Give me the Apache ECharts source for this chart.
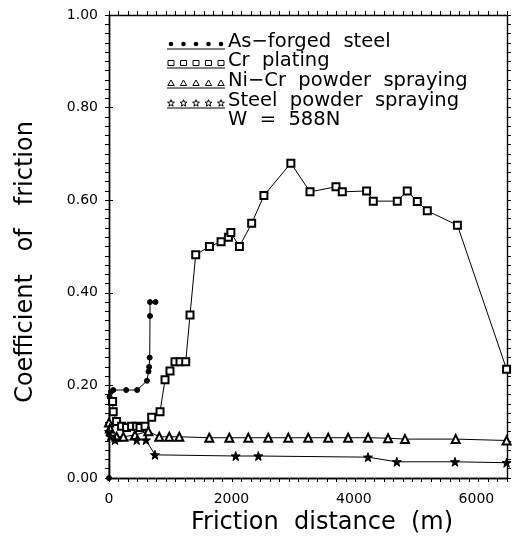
<!DOCTYPE html>
<html>
<head>
<meta charset="utf-8">
<script src="https://cdn.jsdelivr.net/npm/echarts@6/dist/echarts.min.js"></script>
<style>
  html, body { margin: 0; padding: 0; background: #fff; }
  #chart { width: 514px; height: 541px; }
</style>
</head>
<body>
<div id="chart"></div>
<script>
// friction distance (m) / coefficient of friction
const asForgedX = [0, 10, 30, 70, 280, 460, 620, 645, 655, 665, 670, 670, 760]
const asForgedY = [0.00, 0.175, 0.186, 0.19, 0.19, 0.19, 0.21, 0.23, 0.24, 0.26, 0.35, 0.38, 0.38]

const crPlatingX = [59, 69, 124, 206, 287, 369, 451, 506, 588, 697, 833, 915, 996, 1078, 1160, 1253, 1323, 1416, 1640, 1830, 1950, 1990, 2130, 2330, 2530, 2970, 3283, 3707, 3810, 4207, 4316, 4708, 4871, 5035, 5198, 5690, 6493]
const crPlatingY = [0.165, 0.143, 0.122, 0.112, 0.109, 0.112, 0.112, 0.109, 0.112, 0.131, 0.143, 0.212, 0.231, 0.251, 0.251, 0.251, 0.352, 0.482, 0.50, 0.51, 0.52, 0.53, 0.50, 0.55, 0.61, 0.68, 0.618, 0.629, 0.618, 0.620, 0.598, 0.598, 0.620, 0.597, 0.577, 0.546, 0.235]

const niCrX = [0, 16, 125, 234, 425, 642, 821, 984, 1148, 1638, 1965, 2275, 2601, 2928, 3254, 3580, 3906, 4232, 4558, 4834, 5662, 6493]
const niCrY = [0.12, 0.107, 0.089, 0.089, 0.093, 0.101, 0.089, 0.089, 0.089, 0.087, 0.087, 0.087, 0.087, 0.087, 0.087, 0.087, 0.087, 0.087, 0.086, 0.084, 0.084, 0.081]

const steelPowderX = [0, 20, 98, 452, 604, 751, 2069, 2439, 4230, 4700, 5650, 6493]
const steelPowderY = [0.10, 0.09, 0.082, 0.082, 0.082, 0.05, 0.0475, 0.0475, 0.045, 0.035, 0.035, 0.033]

const legendNames = ['As\u2212forged  steel', 'Cr  plating', 'Ni\u2212Cr  powder  spraying', 'Steel  powder  spraying']
const loadLabel = 'W  =  588N'

const xTickLabels = [0, 2000, 4000, 6000]
const yTickLabels = [0, 0.2, 0.4, 0.6, 0.8, 1.0]

const starPath = 'path://M0,-10L2.35,-3.24L9.51,-3.09L3.8,1.24L5.88,8.09L0,4L-5.88,8.09L-3.8,1.24L-9.51,-3.09L-2.35,-3.24Z'

const font = 'DejaVu Sans'
const black = '#000'
const xMax = 6500
const xMinorStep = xMax / 42

const zip = (xs, ys) => xs.map((x, i) => [x, ys[i]])

const chart = echarts.init(document.getElementById('chart'), null, { renderer: 'canvas' })

const lineSeries = (name, xs, ys, symbol, size) => ({
    name,
    type: 'line',
    data: zip(xs, ys),
    symbol,
    symbolSize: size,
    showAllSymbol: true,
    animation: false,
    lineStyle: { color: black, width: 1 },
    itemStyle: { color: black, borderColor: black, borderWidth: 1 },
    emphasis: { disabled: true }
})

const tickAxis = (extra) => Object.assign({
    type: 'value',
    axisLine: { show: true, onZero: false, lineStyle: { color: black, width: 1.4 } },
    axisTick: { show: true, length: 4, lineStyle: { color: black, width: 1 } },
    splitLine: { show: false },
    axisLabel: { show: false }
}, extra)

// legend drawn by hand: five sample marks over a short line, then text
const legendX = 167
const legendRows = [44, 63, 83, 103]
const legendFont = '19.5px "' + font + '"'
const sampleShape = (kind, cx, cy) => {
    if (kind === 0) return { type: 'circle', shape: { cx, cy, r: 2.3 }, style: { fill: black } }
    if (kind === 1) return { type: 'rect', shape: { x: cx - 3, y: cy - 2.5, width: 6, height: 5 }, style: { fill: '#fff', stroke: black, lineWidth: 1 } }
    if (kind === 2) return { type: 'polygon', shape: { points: [[cx, cy - 3], [cx + 3.2, cy + 2.5], [cx - 3.2, cy + 2.5]] }, style: { fill: '#fff', stroke: black, lineWidth: 1 } }
    const pts = []
    for (let k = 0; k < 10; k++) {
        const r = k % 2 === 0 ? 3.6 : 1.5
        const a = -Math.PI / 2 + k * Math.PI / 5
        pts.push([cx + r * Math.cos(a), cy + 0.3 + r * Math.sin(a)])
    }
    return { type: 'polygon', shape: { points: pts }, style: { fill: '#fff', stroke: black, lineWidth: 1 } }
}
const legendGraphics = []
legendRows.forEach((y, i) => {
    legendGraphics.push({ type: 'line', shape: { x1: legendX, y1: y + 5, x2: legendX + 58, y2: y + 5 }, style: { stroke: black, lineWidth: 1 } })
    for (let k = 0; k < 5; k++) legendGraphics.push(sampleShape(i, legendX + 4 + k * 12.5, y))
    legendGraphics.push({ type: 'text', left: 228, top: y - 12, style: { text: legendNames[i], font: legendFont, fill: black } })
})
legendGraphics.push({ type: 'text', left: 228, top: 110, style: { text: loadLabel, font: legendFont, fill: black } })

const option = {
    backgroundColor: '#fff',
    animation: false,
    grid: { left: 109, right: 7, top: 15, bottom: 63, containLabel: false },
    xAxis: [
        // labels and title only
        tickAxis({
            position: 'bottom', min: 0, max: xMax, interval: 2000,
            axisTick: { show: false },
            axisLabel: {
                show: true, color: black, fontFamily: font, fontSize: 14, margin: 14,
                formatter: v => xTickLabels.includes(v) ? String(v) : ''
            },
            name: 'Friction  distance  (m)', nameLocation: 'middle', nameGap: 31,
            nameTextStyle: { color: black, fontFamily: font, fontSize: 24, padding: [0, 0, 0, 28] }
        }),
        // fine ticks, bottom and top
        tickAxis({ position: 'bottom', min: 0, max: xMax, interval: xMinorStep }),
        tickAxis({ position: 'top', min: 0, max: xMax, interval: xMinorStep })
    ],
    yAxis: [
        tickAxis({
            position: 'left', min: 0, max: 1, interval: 0.02,
            axisLabel: {
                show: true, color: black, fontFamily: font, fontSize: 14, margin: 11,
                formatter: v => yTickLabels.some(t => Math.abs(t - v) < 1e-6) ? v.toFixed(2) : ''
            },
            name: 'Coefficient   of   friction', nameLocation: 'middle', nameGap: 71,
            nameTextStyle: { color: black, fontFamily: font, fontSize: 24, padding: [0, 31, 0, 0] }
        }),
        // major ticks poke inside too
        tickAxis({ position: 'left', min: 0, max: 1, interval: 0.2, axisTick: { show: true, inside: true, length: 4, lineStyle: { color: black, width: 1 } } }),
        tickAxis({ position: 'right', min: 0, max: 1, interval: 0.02 })
    ],
    series: [
        lineSeries(legendNames[0], asForgedX, asForgedY, 'circle', 5),
        lineSeries(legendNames[1], crPlatingX, crPlatingY, 'emptyRect', 7),
        lineSeries(legendNames[2], niCrX, niCrY, 'emptyTriangle', 8),
        lineSeries(legendNames[3], steelPowderX, steelPowderY, starPath, 9)
    ],
    graphic: legendGraphics
}

chart.setOption(option)
</script>
</body>
</html>
